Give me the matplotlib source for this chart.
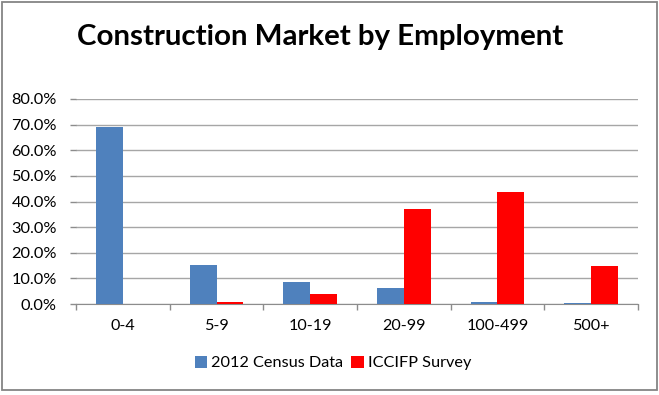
import matplotlib
matplotlib.use("Agg")
import matplotlib.pyplot as plt
import numpy as np
from matplotlib.patches import Rectangle
from matplotlib.ticker import FuncFormatter, FixedLocator
from matplotlib.textpath import TextPath
from matplotlib.font_manager import FontProperties

categories = ["0-4", "5-9", "10-19", "20-99", "100-499", "500+"]
census = [69.1, 15.1, 8.7, 6.3, 0.8, 0.5]
survey = [0.0, 0.6, 4.0, 37.0, 43.8, 14.7]
series_names = ["2012 Census Data", "ICCIFP Survey"]
yticks = [0, 10, 20, 30, 40, 50, 60, 70, 80]
title = "Construction Market by Employment"

FAM = 'Lato'
plt.rcParams['font.family'] = [FAM, 'DejaVu Sans']


def fit_size(text, target_px, weight='normal'):
    # font size (pt) so that text is target_px wide at 100 dpi
    fp = FontProperties(family=FAM, weight=weight, size=10)
    w = TextPath((0, 0), text, prop=fp).get_extents().width
    return 10 * (target_px * 72 / 100) / w


W, H = 659, 395
fig = plt.figure(figsize=(W/100, H/100), dpi=100)
fig.patch.set_facecolor('white')

# outer frame
fig.patches.append(Rectangle((2/W, 1 - 390/H), 655/W, 388.5/H, transform=fig.transFigure,
                             fill=False, edgecolor='#858585', linewidth=1.3))

left, right, top, bottom = 76, 638, 99, 304
ax = fig.add_axes([left/W, 1 - bottom/H, (right-left)/W, (bottom-top)/H])

x = np.arange(len(categories))
bw = 0.285
ax.bar(x - bw/2, census, width=bw, color='#4f81bd', label=series_names[0], zorder=3)
ax.bar(x + bw/2, survey, width=bw, color='#ff0000', label=series_names[1], zorder=3)

ytick_fs = fit_size("80.0%", 44)
xtick_fs = fit_size("100-499", 60)
leg_fs = fit_size(series_names[0], 130)
title_fs = fit_size(title, 486, weight='bold')

ax.set_xlim(-0.5, len(categories) - 0.5)
ax.set_ylim(0, 80)
ax.set_yticks(yticks)
ax.yaxis.set_major_formatter(FuncFormatter(lambda v, p: f"{v:.1f}%"))
ax.grid(axis='y', color='#a6a6a6', linewidth=1.0, zorder=0)
ax.set_xticks(x)
ax.set_xticklabels(categories)
ax.xaxis.set_minor_locator(FixedLocator(np.arange(-0.5, len(categories), 1.0)))
ax.tick_params(axis='x', which='major', length=0, pad=11, labelsize=xtick_fs)
ax.tick_params(axis='x', which='minor', length=4, color='#8c8c8c', width=1)
ax.tick_params(axis='y', length=4.3, color='#8c8c8c', width=1, labelsize=ytick_fs, pad=9.4)

for s in ['top', 'right', 'left']:
    ax.spines[s].set_visible(False)
ax.spines['bottom'].set_color('#8c8c8c')

fig.text(320/W, 1 - 37/H, title, ha='center', va='center',
         fontsize=title_fs, fontweight='bold')

ax.legend(loc='center', bbox_to_anchor=(333/W, 1 - 363/H), bbox_transform=fig.transFigure,
          ncol=2, frameon=False, fontsize=leg_fs, handlelength=0.75, handleheight=0.75,
          handletextpad=0.25, columnspacing=0.5, borderpad=0)

fig.savefig("out.png", dpi=100, facecolor='white')
